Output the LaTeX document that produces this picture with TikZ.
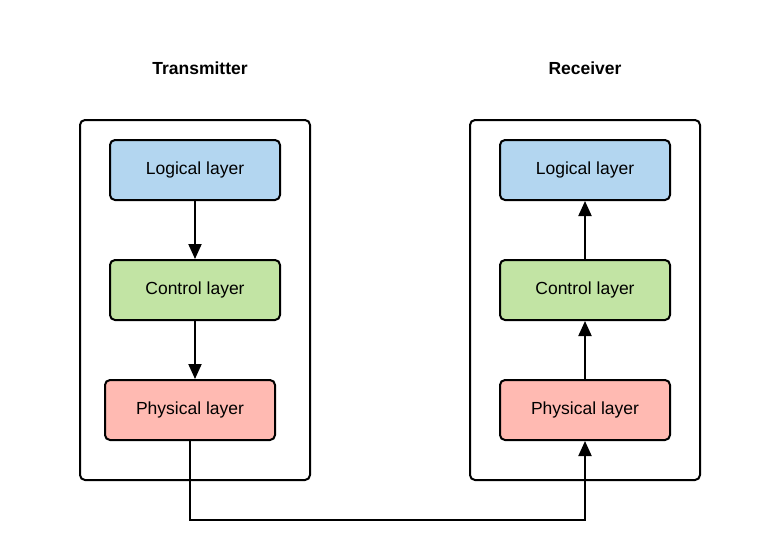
\documentclass[tikz,border=0pt]{standalone}
\usepackage{fontspec}
\setmainfont{Liberation Sans}
\usetikzlibrary{arrows.meta}
\definecolor{logicblue}{RGB}{179,214,240}
\definecolor{ctrlgreen}{RGB}{194,228,164}
\definecolor{physred}{RGB}{255,186,178}
\tikzset{
  layer/.style={draw,line width=2pt,rounded corners=5pt,minimum width=170pt,minimum height=60pt,font=\fontsize{17.5}{19}\selectfont},
  side/.style={draw,line width=2pt,rounded corners=5pt,minimum width=230pt,minimum height=360pt},
  link/.style={line width=2pt,-{Triangle[length=15pt,width=13pt]}}
}
\begin{document}
\begin{tikzpicture}[x=1pt,y=-1pt]
\useasboundingbox (0,0) rectangle (780,560);
%\draw[step=20pt,gray,very thin] (0,0) grid (780,560);
\node[font=\bfseries\fontsize{17.5}{19}\selectfont] (txtitle) at (200,68) {Transmitter};
\node[font=\bfseries\fontsize{17.5}{19}\selectfont] (rxtitle) at (585,68) {Receiver};
\node[side] (tx) at (195,300) {};
\node[side] (rx) at (585,300) {};
% transmitter
\node[layer,fill=logicblue] (txlog) at (195,170) {Logical layer};
\node[layer,fill=ctrlgreen] (txctl) at (195,290) {Control layer};
\node[layer,fill=physred] (txphy) at (190,410) {Physical layer};
% receiver
\node[layer,fill=logicblue] (rxlog) at (585,170) {Logical layer};
\node[layer,fill=ctrlgreen] (rxctl) at (585,290) {Control layer};
\node[layer,fill=physred] (rxphy) at (585,410) {Physical layer};
\draw[link] (txlog) -- (txctl);
\draw[link] (txctl.south) -- (txctl.south |- txphy.north);
\draw[link] (rxctl) -- (rxlog);
\draw[link] (rxphy) -- (rxctl);
\draw[link] (txphy.south) |- (390,520) -| (rxphy.south);
\end{tikzpicture}
\end{document}
